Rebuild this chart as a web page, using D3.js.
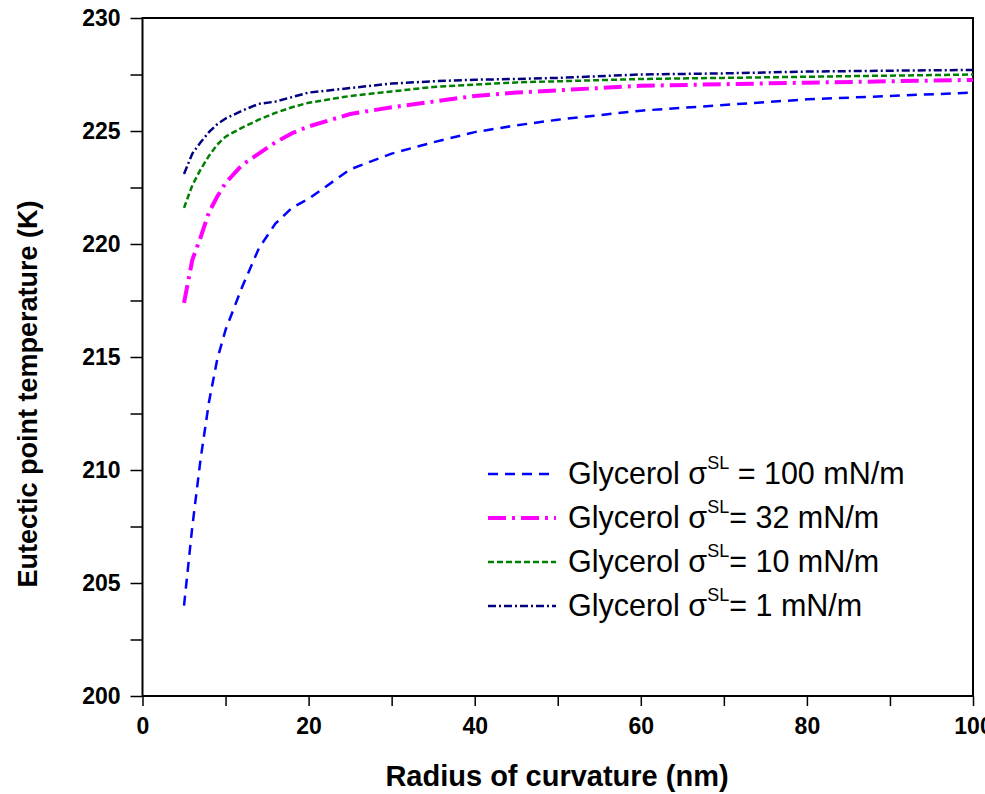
<!doctype html>
<html>
    <head>
        <meta charset="utf-8" />
        <title>Eutectic point temperature</title>
        <script src="https://cdn.jsdelivr.net/npm/d3@7"></script>
        <style type="text/css">
            html, body { margin: 0; padding: 0; background: #fff; }
            text { font-family: "Liberation Sans", Arial, sans-serif; }
        </style>
    </head>
    <body>
        <script>
            // radius of curvature (nm), shared by every curve
            const radius = [5, 6, 7, 8, 9, 10, 12, 14, 16, 18, 20, 25, 30, 35, 40, 45, 50, 60, 70, 80, 90, 100];
            // eutectic point temperature (K) for each interfacial energy
            const t100 = [204.0, 207.5, 210.5, 213.0, 214.9, 216.2, 218.1, 219.8, 220.9, 221.6, 222.0, 223.3, 224.0, 224.5, 224.95, 225.25, 225.5, 225.9, 226.15, 226.4, 226.55, 226.7];
            const t32 = [217.4, 219.3, 220.3, 221.4, 222.1, 222.7, 223.5, 224.0, 224.5, 224.9, 225.2, 225.75, 226.05, 226.3, 226.55, 226.7, 226.8, 227.0, 227.07, 227.14, 227.2, 227.26];
            const t10 = [221.6, 222.6, 223.3, 223.9, 224.4, 224.75, 225.15, 225.5, 225.8, 226.05, 226.25, 226.55, 226.75, 226.95, 227.05, 227.15, 227.2, 227.3, 227.35, 227.4, 227.45, 227.5];
            const t1 = [223.1, 224.0, 224.5, 224.95, 225.3, 225.55, 225.9, 226.2, 226.3, 226.5, 226.7, 226.9, 227.1, 227.2, 227.27, 227.3, 227.35, 227.5, 227.55, 227.63, 227.67, 227.7];

            const legendTail = [" = 100 mN/m", "= 32 mN/m", "= 10 mN/m", "= 1 mN/m"];
            const xTicks = [0, 20, 40, 60, 80, 100];
            const yTicks = [200, 205, 210, 215, 220, 225, 230];

            const series = [
                { values: t100, color: "#0000ff", width: 2.5, dash: "10,7" },
                { values: t32, color: "#ff00ff", width: 4, dash: "18,6,3,6" },
                { values: t10, color: "#008000", width: 2.5, dash: "6,3" },
                { values: t1, color: "#000080", width: 2.5, dash: "8,3,2,3" }
            ];

            const W = 985, H = 794;
            const m = { left: 142.5, right: 12, top: 18, bottom: 98 };

            const svg = d3.select("body").append("svg")
                .attr("width", W)
                .attr("height", H);

            const x = d3.scaleLinear().domain([0, 100]).range([m.left, W - m.right]);
            const y = d3.scaleLinear().domain([200, 230]).range([H - m.bottom, m.top]);

            // frame
            svg.append("rect")
                .attr("x", x(0)).attr("y", y(230))
                .attr("width", x(100) - x(0)).attr("height", y(200) - y(230))
                .attr("fill", "none").attr("stroke", "#000").attr("stroke-width", 2);

            // x axis with minor ticks
            const gx = svg.append("g").attr("transform", `translate(0,${y(200)})`);
            gx.call(d3.axisBottom(x).tickValues(d3.range(0, 101, 10)).tickSize(10).tickFormat(d => xTicks.includes(d) ? d : ""));
            gx.select(".domain").remove();
            gx.selectAll("line").attr("stroke-width", 1.5);
            gx.selectAll("text")
                .attr("dy", "1.1em")
                .style("font-size", "23px").style("font-weight", "bold");

            // y axis with minor ticks
            const gy = svg.append("g").attr("transform", `translate(${x(0)},0)`);
            gy.call(d3.axisLeft(y).tickValues(d3.range(200, 230.1, 2.5)).tickSize(12).tickFormat(d => yTicks.includes(d) ? d : ""));
            gy.select(".domain").remove();
            gy.selectAll("line").attr("stroke-width", 1.5);
            gy.selectAll("text")
                .attr("x", -22)
                .style("font-size", "23px").style("font-weight", "bold");

            // axis titles
            svg.append("text")
                .attr("x", 557)
                .attr("y", 786)
                .attr("text-anchor", "middle")
                .style("font-size", "29px").style("font-weight", "bold")
                .text("Radius of curvature (nm)");
            svg.append("text")
                .attr("transform", `translate(37,394) rotate(-90)`)
                .attr("text-anchor", "middle")
                .style("font-size", "27px").style("font-weight", "bold")
                .text("Eutectic point temperature (K)");

            // curves
            const line = d3.line()
                .x((d, i) => x(radius[i]))
                .y(d => y(d));

            svg.append("g").selectAll("path")
                .data(series)
                .join("path")
                .attr("d", d => line(d.values))
                .attr("fill", "none")
                .attr("stroke", d => d.color)
                .attr("stroke-width", d => d.width)
                .attr("stroke-dasharray", d => d.dash);

            // legend
            const lg = svg.append("g").selectAll("g")
                .data(series)
                .join("g")
                .attr("transform", (d, i) => `translate(488,${474 + i * 44})`);
            lg.append("line")
                .attr("x1", 0).attr("x2", 68)
                .attr("stroke", d => d.color)
                .attr("stroke-width", d => d.width)
                .attr("stroke-dasharray", d => d.dash);
            const lt = lg.append("text")
                .attr("x", 80)
                .attr("y", 10)
                .style("font-size", "30.5px");
            lt.append("tspan").text("Glycerol σ");
            lt.append("tspan").attr("dy", -15).style("font-size", "18px").text("SL");
            lt.append("tspan").attr("dy", 15).text((d, i) => legendTail[i]);
        </script>
    </body>
</html>
